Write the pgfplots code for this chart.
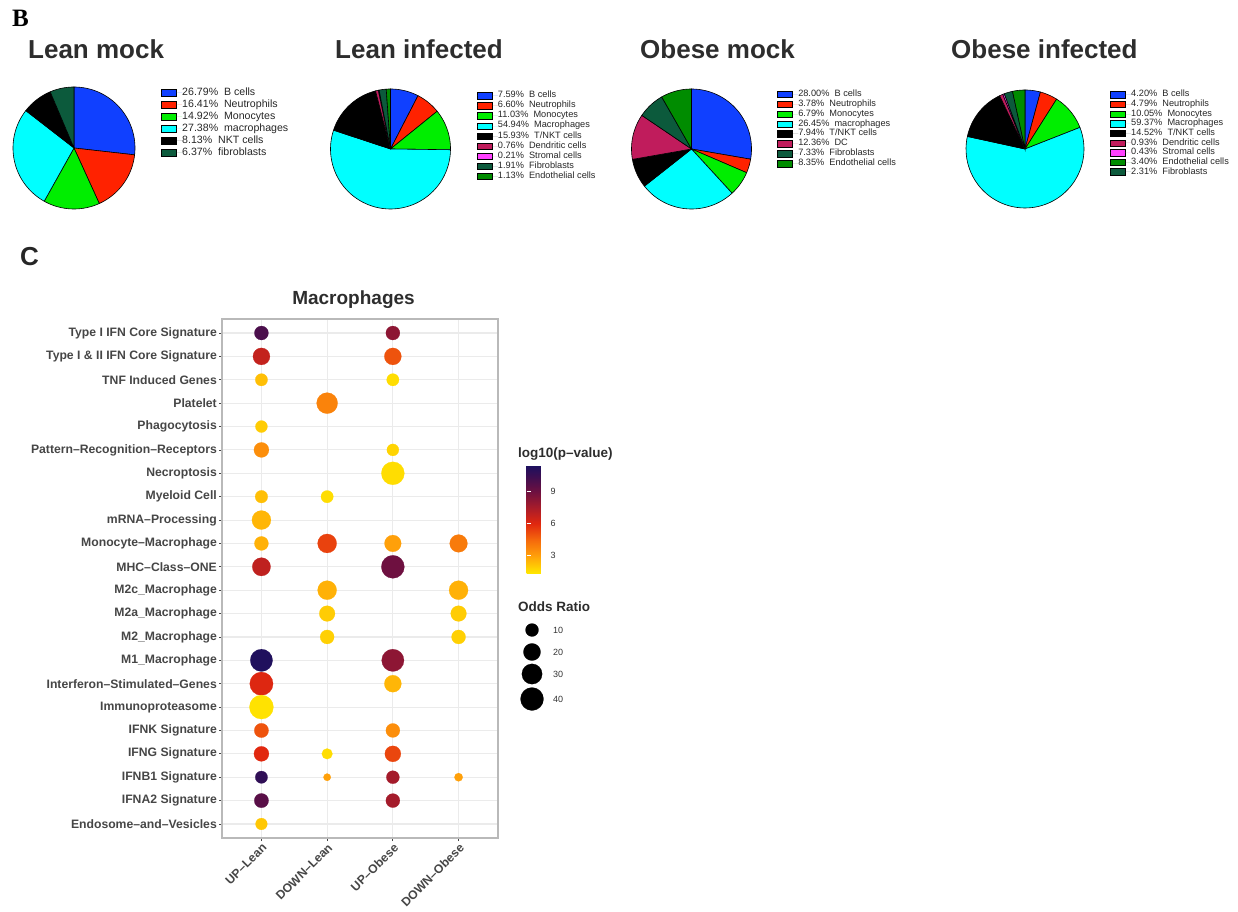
\documentclass[border=0pt]{standalone}
\usepackage{fontspec}
\setmainfont{Liberation Sans}
\newfontfamily\serifbold{Liberation Serif}
\usepackage{pgfplots}
\pgfplotsset{compat=1.18}
\usepackage{pgfplotstable}

% cell type colours
\definecolor{cB}{RGB}{16,64,255}
\definecolor{cNeu}{RGB}{255,34,0}
\definecolor{cMono}{RGB}{0,238,0}
\definecolor{cMac}{RGB}{0,255,255}
\definecolor{cNKT}{RGB}{0,0,0}
\definecolor{cFib}{RGB}{12,90,60}
\definecolor{cDC}{RGB}{192,28,92}
\definecolor{cStr}{RGB}{255,64,255}
\definecolor{cEndo}{RGB}{0,140,0}
% text and frame greys
\definecolor{titlegrey}{RGB}{45,45,45}
\definecolor{labgrey}{RGB}{70,70,70}
\definecolor{gridgrey}{RGB}{235,235,235}
\definecolor{framegrey}{RGB}{185,185,185}

% pie slices, clockwise from 12 o'clock; list of value/colour
\newcommand\pieslices[1]{%
  \gdef\pietotal{0}%
  \foreach \pval/\pcol in {#1}{\pgfmathsetmacro\pietmp{\pietotal+\pval}\global\let\pietotal\pietmp}%
  \gdef\piestart{0}%
  \foreach \pval/\pcol in {#1}{%
    \pgfmathsetmacro\pieend{\piestart+\pval/\pietotal*360}%
    \edef\next{\noexpand\addplot[fill=\pcol,draw=black,line width=0.6pt,domain=\piestart:\pieend,samples=60,forget plot] ({sin(x)},{cos(x)}) -- (axis cs:0,0) -- cycle;}%
    \next
    \global\let\piestart\pieend
  }%
}

\pgfplotsset{
  pieaxis/.style={hide axis, scale only axis, xmin=-1, xmax=1, ymin=-1, ymax=1,
    clip=false, anchor=center, legend cell align=left,
    legend image code/.code={\draw[##1,draw=black,line width=0.5pt] (0pt,-3.2pt) rectangle (15pt,3.2pt); \path[draw=none] (0pt,0pt) -- (21pt,0pt);},
    legend style={draw=none, fill=none, inner sep=0pt, outer sep=0pt, anchor=north west,
      row sep=0pt, text=black!85}},
  smalllegend/.style={legend style={font=\fontsize{9.2}{10}\selectfont,
      nodes={inner sep=0pt, text height=7pt, text depth=#1}}},
  pvmap/.style={colormap={pv}{rgb255(0pt)=(255,230,0); rgb255(16pt)=(255,160,10); rgb255(31pt)=(245,105,12);
    rgb255(46pt)=(225,40,15); rgb255(61pt)=(168,28,42); rgb255(76pt)=(110,16,64);
    rgb255(91pt)=(58,14,82); rgb255(101pt)=(26,16,96)},
    point meta min=1.4, point meta max=11.5},
  % marker diameter grows with the square root of the odds ratio
  orsize/.style={visualization depends on={\thisrow{or} \as \orv},
    scatter/@pre marker code/.append style={/tikz/mark size={1.5+1.581*sqrt(\orv)}}},
}

\pgfplotstableread{
x y or logp
1 22 12.1 10.0
3 22 12.1 8.2
1 21 19.6 6.8
3 21 19.6 5.0
1 20 8.7 2.3
3 20 8.7 1.6
2 19 32.4 3.8
1 18 8.1 2.0
1 17 14.4 3.5
3 17 8.1 1.8
3 16 40.0 1.6
1 15 9.2 2.3
2 15 8.7 1.6
1 14 25.6 2.5
1 13 12.1 2.6
2 13 25.6 5.4
3 13 18.8 3.0
4 13 21.6 4.0
1 12 23.4 6.9
3 12 40.0 9.0
2 11 25.6 2.6
4 11 25.6 2.6
2 10 16.1 2.0
4 10 16.1 2.0
2 9 12.1 1.9
4 9 12.1 1.9
1 8 37.3 11.3
3 8 37.3 8.2
1 7 41.2 6.1
3 7 19.6 2.5
1 6 44.1 1.5
1 5 12.8 5.0
3 5 12.1 3.5
1 4 14.4 6.0
2 4 5.9 1.6
3 4 16.9 5.3
1 3 8.7 10.8
2 3 1.9 3.0
3 3 10.0 7.6
4 3 2.8 3.0
1 2 12.8 9.6
3 2 12.1 7.6
1 1 7.6 2.1
}\dotdata

\pgfplotstableread{
x y or
14 630 10
14 652 20
14 674 30
14 699 40
}\oddsdata

\begin{document}
\begin{tikzpicture}[x=1pt,y=1pt]
\useasboundingbox (0pt,0pt) rectangle (1238pt,911pt);

% ---------------- panel B ----------------
\node[anchor=base west, inner sep=0pt, font=\serifbold\bfseries\fontsize{25}{25}\selectfont] at (12pt,884pt) {B};
\begin{scope}[every node/.style={anchor=base west, inner sep=0pt, text=titlegrey, font=\bfseries\fontsize{26}{26}\selectfont}]
\node at (28pt,852.5pt) {Lean mock};
\node at (335pt,852.5pt) {Lean infected};
\node at (640pt,852.5pt) {Obese mock};
\node at (951pt,852.5pt) {Obese infected};
\end{scope}

% Lean mock
\begin{axis}[pieaxis, at={(74pt,763pt)}, width=122pt, height=122pt,
  legend style={at={(1.213,1.002)}, font=\fontsize{10.6}{12}\selectfont,
    nodes={inner sep=0pt, text height=8.5pt, text depth=3.5pt}}]
\pieslices{26.79/cB, 16.41/cNeu, 14.92/cMono, 27.38/cMac, 8.13/cNKT, 6.37/cFib}
\addlegendimage{fill=cB}\addlegendentry{26.79\%\ \ B cells}
\addlegendimage{fill=cNeu}\addlegendentry{16.41\%\ \ Neutrophils}
\addlegendimage{fill=cMono}\addlegendentry{14.92\%\ \ Monocytes}
\addlegendimage{fill=cMac}\addlegendentry{27.38\%\ \ macrophages}
\addlegendimage{fill=cNKT}\addlegendentry{8.13\%\ \ NKT cells}
\addlegendimage{fill=cFib}\addlegendentry{6.37\%\ \ fibroblasts}
\end{axis}

% Lean infected
\begin{axis}[pieaxis, at={(390.5pt,762pt)}, width=120pt, height=120pt,
  legend style={at={(1.218,0.986)}}, smalllegend=3.1pt]
\pieslices{7.59/cB, 6.60/cNeu, 11.03/cMono, 54.94/cMac, 15.93/cNKT, 0.76/cDC, 0.21/cStr, 1.91/cFib, 1.13/cEndo}
\addlegendimage{fill=cB}\addlegendentry{7.59\%\ \ B cells}
\addlegendimage{fill=cNeu}\addlegendentry{6.60\%\ \ Neutrophils}
\addlegendimage{fill=cMono}\addlegendentry{11.03\%\ \ Monocytes}
\addlegendimage{fill=cMac}\addlegendentry{54.94\%\ \ Macrophages}
\addlegendimage{fill=cNKT}\addlegendentry{15.93\%\ \ T/NKT cells}
\addlegendimage{fill=cDC}\addlegendentry{0.76\%\ \ Dendritic cells}
\addlegendimage{fill=cStr}\addlegendentry{0.21\%\ \ Stromal cells}
\addlegendimage{fill=cFib}\addlegendentry{1.91\%\ \ Fibroblasts}
\addlegendimage{fill=cEndo}\addlegendentry{1.13\%\ \ Endothelial cells}
\end{axis}

% Obese mock
\begin{axis}[pieaxis, at={(691.5pt,762pt)}, width=120pt, height=120pt,
  legend style={at={(1.2125,0.997)}}, smalllegend=2.9pt]
\pieslices{28.00/cB, 3.78/cNeu, 6.79/cMono, 26.45/cMac, 7.94/cNKT, 12.36/cDC, 7.33/cFib, 8.35/cEndo}
\addlegendimage{fill=cB}\addlegendentry{28.00\%\ \ B cells}
\addlegendimage{fill=cNeu}\addlegendentry{3.78\%\ \ Neutrophils}
\addlegendimage{fill=cMono}\addlegendentry{6.79\%\ \ Monocytes}
\addlegendimage{fill=cMac}\addlegendentry{26.45\%\ \ macrophages}
\addlegendimage{fill=cNKT}\addlegendentry{7.94\%\ \ T/NKT cells}
\addlegendimage{fill=cDC}\addlegendentry{12.36\%\ \ DC}
\addlegendimage{fill=cFib}\addlegendentry{7.33\%\ \ Fibroblasts}
\addlegendimage{fill=cEndo}\addlegendentry{8.35\%\ \ Endothelial cells}
\end{axis}

% Obese infected
\begin{axis}[pieaxis, at={(1025pt,762pt)}, width=118pt, height=118pt,
  legend style={at={(1.22,1.001)}}, smalllegend=2.65pt]
\pieslices{4.20/cB, 4.79/cNeu, 10.05/cMono, 59.37/cMac, 14.52/cNKT, 0.93/cDC, 0.43/cStr, 2.31/cFib, 3.40/cEndo}
\addlegendimage{fill=cB}\addlegendentry{4.20\%\ \ B cells}
\addlegendimage{fill=cNeu}\addlegendentry{4.79\%\ \ Neutrophils}
\addlegendimage{fill=cMono}\addlegendentry{10.05\%\ \ Monocytes}
\addlegendimage{fill=cMac}\addlegendentry{59.37\%\ \ Macrophages}
\addlegendimage{fill=cNKT}\addlegendentry{14.52\%\ \ T/NKT cells}
\addlegendimage{fill=cDC}\addlegendentry{0.93\%\ \ Dendritic cells}
\addlegendimage{fill=cStr}\addlegendentry{0.43\%\ \ Stromal cells}
\addlegendimage{fill=cEndo}\addlegendentry{3.40\%\ \ Endothelial cells}
\addlegendimage{fill=cFib}\addlegendentry{2.31\%\ \ Fibroblasts}
\end{axis}

% ---------------- panel C ----------------
\node[anchor=base west, inner sep=0pt, text=black!85, font=\bfseries\fontsize{26}{26}\selectfont] at (20pt,645pt) {C};
\node[anchor=base, inner sep=0pt, text=titlegrey, font=\bfseries\fontsize{19}{19}\selectfont] at (353.5pt,606pt) {Macrophages};
\node[anchor=base west, inner sep=0pt, text=titlegrey, font=\bfseries\fontsize{13.5}{13.5}\selectfont] at (518pt,453pt) {log10(p–value)};
\node[anchor=base west, inner sep=0pt, text=titlegrey, font=\bfseries\fontsize{13.5}{13.5}\selectfont] at (518pt,300pt) {Odds Ratio};

\begin{axis}[at={(222pt,592pt)}, anchor=north west, scale only axis,
  width=276pt, height=519pt,
  xmin=0.4, xmax=4.6, ymin=0.4, ymax=22.6,
  xtick={1,2,3,4}, xticklabels={UP–Lean,DOWN–Lean,UP–Obese,DOWN–Obese},
  ytick={1,...,22},
  yticklabels={Endosome–and–Vesicles, IFNA2 Signature, IFNB1 Signature, IFNG Signature,
    IFNK Signature, Immunoproteasome, Interferon–Stimulated–Genes, M1\_Macrophage,
    M2\_Macrophage, M2a\_Macrophage, M2c\_Macrophage, MHC–Class–ONE,
    Monocyte–Macrophage, mRNA–Processing, Myeloid Cell, Necroptosis,
    Pattern–Recognition–Receptors, Phagocytosis, Platelet, TNF Induced Genes,
    Type I \& II IFN Core Signature, Type I IFN Core Signature},
  xtick pos=bottom, ytick pos=left, tick align=outside, major tick length=3pt,
  tick style={color=labgrey, line width=0.8pt},
  grid=major, grid style={color=gridgrey, line width=1.1pt},
  axis line style={draw=framegrey, line width=1.3pt},
  ticklabel style={font=\bfseries\fontsize{12.2}{12.2}\selectfont, text=labgrey},
  xticklabel style={rotate=45, anchor=north east, inner sep=1pt},
  yticklabel style={anchor=east, inner sep=2pt},
  pvmap, clip=false]
\addplot[scatter, only marks, mark=*, point meta=explicit,
  scatter/use mapped color={draw=mapped color, fill=mapped color},
  mark options={line width=0.2pt}, orsize]
  table[x=x, y=y, meta=logp] {\dotdata};
\end{axis}

% colour key for log10(p-value)
\begin{axis}[at={(518pt,446pt)}, anchor=north west, scale only axis, width=22pt, height=108pt,
  hide axis, xmin=0, xmax=1, ymin=1.4, ymax=11.5, pvmap,
  colorbar,
  colorbar style={at={(parent axis.north west)}, anchor=north west,
    scale only axis, width=22pt, height=108pt,
    ytick={3,6,9}, ytick pos=both, yticklabel pos=right,
    tick align=inside, major tick length=4.4pt,
    ytick style={draw=white, line width=0.8pt},
    axis line style={draw=none},
    yticklabel style={font=\fontsize{9}{9}\selectfont, text=black!80, inner sep=1pt, xshift=1pt},
    /pgf/number format/assume math mode=true}]
\addplot[draw=none, forget plot] coordinates {(0,1.4) (1,11.5)};
\end{axis}

% odds ratio size key
\begin{axis}[at={(518pt,311pt)}, anchor=north west, scale only axis, width=60pt, height=110pt,
  xmin=0, xmax=60, ymin=600, ymax=710, y dir=reverse, hide axis, clip=false]
\addplot[scatter, only marks, mark=*, point meta=explicit,
  scatter/use mapped color={draw=black, fill=black},
  mark options={line width=0.2pt}, orsize]
  table[x=x, y=y, meta=or] {\oddsdata};
\addplot[only marks, mark=*, mark size=0pt, draw=none, point meta=explicit,
  nodes near coords={\pgfmathprintnumber[fixed,precision=0,assume math mode=true]{\pgfplotspointmeta}},
  every node near coord/.style={anchor=west, inner sep=0pt, xshift=21pt,
    font=\fontsize{9}{9}\selectfont, text=black!80}]
  table[x=x, y=y, meta=or] {\oddsdata};
\end{axis}
\end{tikzpicture}
\end{document}
